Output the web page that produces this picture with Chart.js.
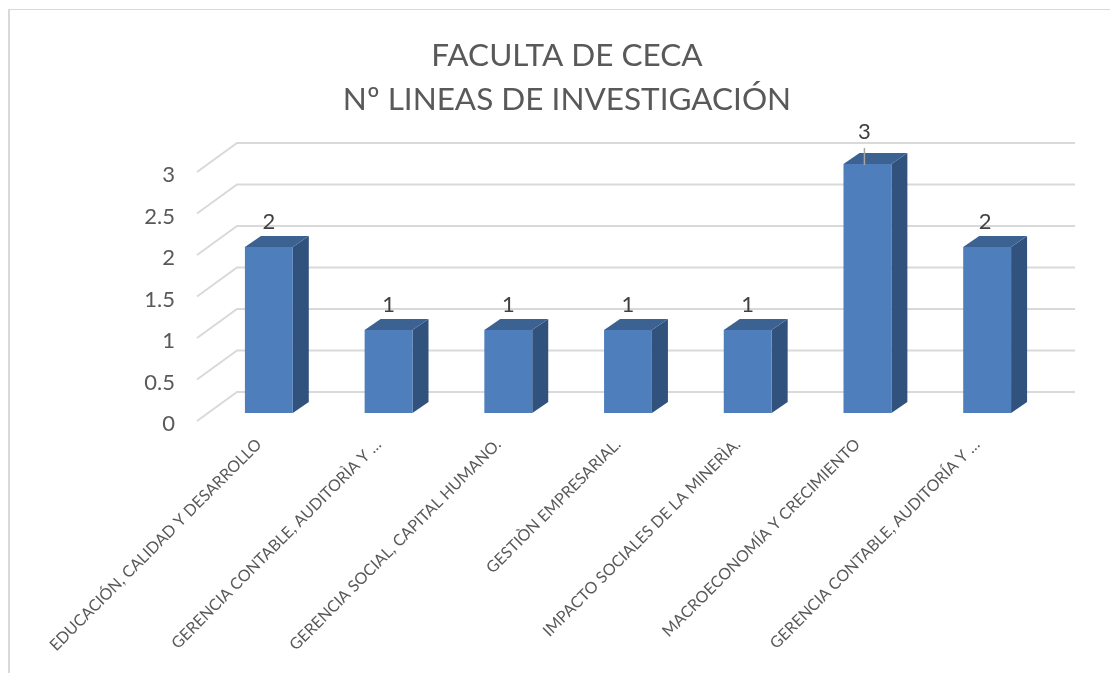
<!DOCTYPE html>
<html>
<head>
<meta charset="utf-8">
<title>Líneas de investigación</title>
<script src="https://cdn.jsdelivr.net/npm/chart.js@4"></script>
<style>
  html, body { margin: 0; padding: 0; background: #fff; overflow: hidden; }
  #frame { position: absolute; left: 8px; top: 9px; width: 1102px; height: 664px; box-sizing: border-box;
           border-left: 2px solid #d9d9d9; border-top: 1px solid #d9d9d9; }
  #wrap { position: absolute; left: 0; top: 0; width: 1110px; height: 673px; }
</style>
</head>
<body>
<div id="frame"></div>
<div id="wrap"><canvas id="chart"></canvas></div>
<script>
const categorias = [
  'EDUCACIÓN, CALIDAD Y DESARROLLO',
  'GERENCIA CONTABLE, AUDITORÌA Y …',
  'GERENCIA SOCIAL, CAPITAL HUMANO.',
  'GESTIÒN EMPRESARIAL.',
  'IMPACTO SOCIALES DE LA MINERÌA.',
  'MACROECONOMÍA Y CRECIMIENTO',
  'GERENCIA CONTABLE, AUDITORÍA Y …'
];
const lineas = [2, 1, 1, 1, 1, 3, 2];
const titulo = ['FACULTA DE CECA', 'Nº LINEAS DE INVESTIGACIÓN'];

const FUENTE = 'Lato, sans-serif';

// falso 3D: paredes, caras de las barras, etiquetas y titulo
const tresD = {
  id: 'tresD',
  beforeDatasetsDraw(chart) {
    const { ctx, chartArea, scales } = chart;
    ctx.save();
    ctx.strokeStyle = '#d9d9d9';
    ctx.lineWidth = 2;
    scales.y.ticks.forEach(t => {
      const y = scales.y.getPixelForValue(t.value);
      ctx.beginPath();
      ctx.moveTo(chartArea.left, y);
      ctx.lineTo(chartArea.left + 40, y - 29);
      ctx.lineTo(chartArea.right + 40, y - 29);
      ctx.stroke();
    });
    ctx.restore();
  },
  beforeDatasetDraw(chart, args) {
    const { ctx } = chart;
    ctx.save();
    ctx.translate(12, -8);
    args.meta.data.forEach(bar => {
      const { x, y, base, width } = bar.getProps(['x', 'y', 'base', 'width'], true);
      const r = x + width / 2, l = x - width / 2;
      ctx.fillStyle = '#30527c';
      ctx.beginPath();
      ctx.moveTo(r, y); ctx.lineTo(r + 16, y - 11); ctx.lineTo(r + 16, base - 11); ctx.lineTo(r, base);
      ctx.closePath(); ctx.fill();
      ctx.fillStyle = '#3b6290';
      ctx.beginPath();
      ctx.moveTo(l, y); ctx.lineTo(l + 16, y - 11); ctx.lineTo(r + 16, y - 11); ctx.lineTo(r, y);
      ctx.closePath(); ctx.fill();
    });
  },
  afterDatasetDraw(chart) {
    chart.ctx.restore();
  },
  afterDatasetsDraw(chart) {
    const { ctx } = chart;
    const barras = chart.getDatasetMeta(0).data;
    const maximo = Math.max(...lineas);
    ctx.save();
    ctx.font = '22px ' + FUENTE;
    ctx.fillStyle = '#404040';
    ctx.textAlign = 'center';
    ctx.textBaseline = 'middle';
    barras.forEach((bar, i) => {
      const x = bar.x + 12;
      const y = bar.y - 8;
      if (lineas[i] === maximo) {
        ctx.strokeStyle = '#a6a6a6';
        ctx.lineWidth = 1.5;
        ctx.beginPath();
        ctx.moveTo(x - 3, y - 16);
        ctx.lineTo(x - 3, y + 1);
        ctx.stroke();
        ctx.fillText(lineas[i], x - 3, y - 32);
      } else {
        ctx.fillText(lineas[i], x - (i === barras.length - 1 ? 2 : 0), y - 25);
      }
    });
    // el titulo va centrado en el grafico completo, no en el area de trazado
    ctx.font = '31.5px ' + FUENTE;
    ctx.fillStyle = '#595959';
    titulo.forEach((linea, i) => ctx.fillText(linea, 567, 55.5 + i * 44));
    ctx.restore();
  }
};

new Chart(document.getElementById('chart'), {
  type: 'bar',
  data: {
    labels: categorias,
    datasets: [{
      data: lineas,
      backgroundColor: '#4e7fbc',
      borderWidth: 0,
      categoryPercentage: 1,
      barPercentage: 0.4,
      clip: false
    }]
  },
  plugins: [tresD],
  options: {
    responsive: true,
    maintainAspectRatio: false,
    animation: false,
    layout: { padding: { left: 0, right: 75, top: 172, bottom: 0 } },
    plugins: {
      legend: { display: false },
      tooltip: { enabled: false },
      title: { display: false }
    },
    scales: {
      x: {
        grid: { display: false },
        border: { display: false },
        afterFit: s => { s.height = 252; },
        ticks: {
          color: '#595959',
          font: { family: FUENTE, size: 16 },
          autoSkip: false,
          minRotation: 45,
          maxRotation: 45,
          padding: 6,
          labelOffset: 2
        }
      },
      y: {
        min: 0,
        max: 3,
        grid: { display: false },
        border: { display: false },
        afterFit: s => { s.width = 197; },
        ticks: {
          stepSize: 0.5,
          color: '#595959',
          font: { family: FUENTE, size: 22 },
          padding: 14,
          labelOffset: 3,
          callback: v => String(v)
        }
      }
    }
  }
});
</script>
</body>
</html>
